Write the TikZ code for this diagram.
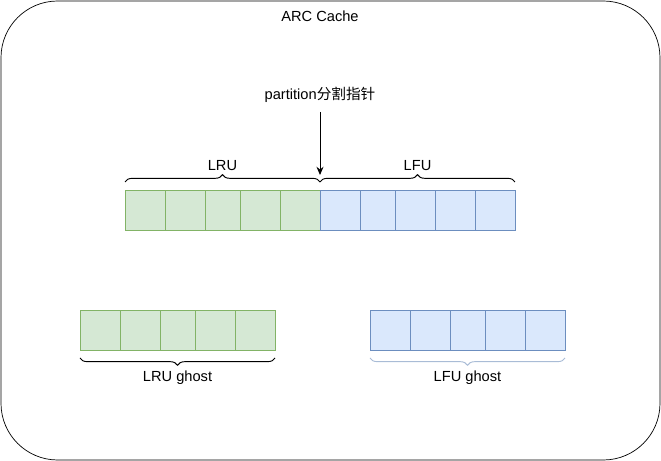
\documentclass[tikz,border=0pt]{standalone}
\usepackage{fontspec}
\setmainfont{Liberation Sans}
\newfontfamily\cjk{Noto Sans CJK SC}
\usepackage{tikz}
\usetikzlibrary{arrows.meta,positioning,decorations.pathreplacing}
\definecolor{lrufill}{HTML}{D5E8D4}
\definecolor{lruline}{HTML}{82B366}
\definecolor{lfufill}{HTML}{DAE8FC}
\definecolor{lfuline}{HTML}{6C8EBF}
\definecolor{ghostline}{HTML}{A9BCD6}

\begin{document}
\begin{tikzpicture}[
    x=0.03cm, y=-0.03cm,
    txt/.style={font=\fontsize{12.5}{15}\selectfont, text=black},
    outer/.style={draw=black, semithick, rounded corners=1.7cm, inner sep=0pt},
    lrucell/.style={draw=lruline, fill=lrufill, inner sep=0pt, outer sep=0pt, minimum height=1.2cm},
    lfucell/.style={draw=lfuline, fill=lfufill, inner sep=0pt, outer sep=0pt, minimum height=1.2cm},
    brace/.style={decorate, decoration={brace, amplitude=0.22cm}, draw=black, thick},
    ptr/.style={-{Stealth[length=7pt, width=6pt]}, color=black, thick}
]
\useasboundingbox (0,0) rectangle (661,461);

% --- cache boundary ---
\draw[outer] (1,1) rectangle (660,460);
\node[txt] (title) at (320,16) {ARC Cache};

% --- braces (ends at the list edges) ---
\coordinate (lrua) at (125,182);
\coordinate (lrub) at (320,182);
\coordinate (lfua) at (320,182);
\coordinate (lfub) at (515,182);
\coordinate (lruga) at (80,358);
\coordinate (lrugb) at (275,358);
\coordinate (lfuga) at (370,358);
\coordinate (lfugb) at (565,358);
\draw[brace] (lrua) -- coordinate[midway] (lrumid) (lrub);
\draw[brace] (lfua) -- coordinate[midway] (lfumid) (lfub);
\draw[brace] (lrugb) -- coordinate[midway] (lrugmid) (lruga);
\draw[brace, draw=ghostline] (lfugb) -- coordinate[midway] (lfugmid) (lfuga);

% --- LRU / LFU lists ---
\foreach \a/\b [count=\i] in {125/165, 165/205, 205/240, 240/280, 280/320}
  \node[lrucell, minimum width={(\b-\a)*0.03cm}] (lru\i) at ({(\a+\b)/2},210) {};
\foreach \a/\b [count=\i] in {320/360, 360/395, 395/435, 435/475, 475/515}
  \node[lfucell, minimum width={(\b-\a)*0.03cm}] (lfu\i) at ({(\a+\b)/2},210) {};

% --- ghost lists ---
\foreach \a/\b [count=\i] in {80/120, 120/160, 160/195, 195/235, 235/275}
  \node[lrucell, minimum width={(\b-\a)*0.03cm}] (lrug\i) at ({(\a+\b)/2},330) {};
\foreach \a/\b [count=\i] in {370/410, 410/450, 450/485, 485/525, 525/565}
  \node[lfucell, minimum width={(\b-\a)*0.03cm}] (lfug\i) at ({(\a+\b)/2},330) {};

\node[txt, above=0.22cm of lrumid] (lrulbl) {LRU};
\node[txt, above=0.22cm of lfumid] (lfulbl) {LFU};
\node[txt, below=0.25cm of lrugmid] (lrugl) {LRU ghost};
\node[txt, below=0.25cm of lfugmid] (lfugl) {LFU ghost};

% --- partition pointer ---
\node[txt] (part) at (320,95) {partition{\cjk 分割指针}};
\coordinate (split) at (320,175);
\draw[ptr] ([yshift=-0.15cm]part.south) -- (split);

\end{tikzpicture}
\end{document}
